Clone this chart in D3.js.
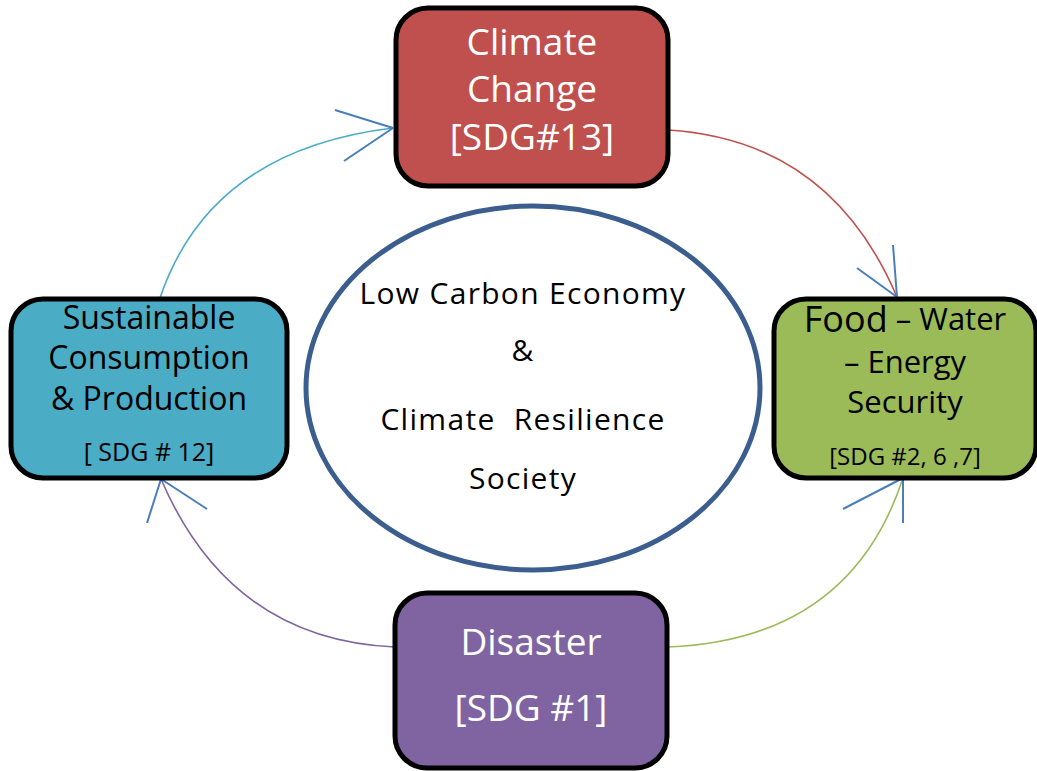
<!DOCTYPE html>
<html>
<head>
<meta charset="utf-8">
<script src="https://cdn.jsdelivr.net/npm/d3@7"></script>
<style>
  body { margin: 0; background: #fff; }
  svg { display: block; }
</style>
</head>
<body>
<script>
const width = 1037, height = 771;

// boxes of the cycle
const boxNames = ["climate", "food", "disaster", "consumption"];
const boxFills = ["#c0504d", "#9bbb59", "#8064a2", "#4bacc6"];
const boxTextColors = ["#fff", "#000", "#fff", "#000"];
const boxRects = [[396, 8, 272, 178], [774, 299, 262, 179], [395, 593, 272, 175], [11, 299, 276, 179]];
const boxLines = [
  [["Climate", 37, 45], ["Change", 37, 92], ["[SDG#13]", 37, 140]],
  [["Food – Water", 31, 322], ["– Energy", 31, 365], ["Security", 31, 405], ["[SDG #2, 6 ,7]", 24, 459]],
  [["Disaster", 37, 645], ["[SDG #1]", 37, 711]],
  [["Sustainable", 32, 320], ["Consumption", 32, 360], ["& Production", 32, 401], ["[ SDG # 12]", 25, 454]]
];

// center text
const centerLines = ["Low Carbon Economy", "&", "Climate  Resilience", "Society"];
const centerY = [296, 353, 422, 481];

// connecting arrows: start, control, end (tip), and two barb ends
const arrowColors = ["#4bacc6", "#c0504d", "#9bbb59", "#8064a2"];
const arrowPaths = [
  [[160, 298], [210, 150], [393, 128]],
  [[668, 130], [830, 140], [897, 297]],
  [[668, 647], [850, 640], [903, 478]],
  [[395, 647], [230, 640], [161, 479]]
];
const arrowBarbs = [
  [[335, 110], [344, 161]],
  [[857, 268], [893, 245]],
  [[843, 509], [903, 523]],
  [[147, 523], [207, 509]]
];

const svg = d3.select("body").append("svg")
  .attr("width", width)
  .attr("height", height);

const font = "'Open Sans', sans-serif";

// curves
svg.selectAll("path.curve")
  .data(arrowPaths)
  .enter().append("path")
    .attr("class", "curve")
    .attr("d", p => {
      const path = d3.path();
      path.moveTo(p[0][0], p[0][1]);
      path.quadraticCurveTo(p[1][0], p[1][1], p[2][0], p[2][1]);
      return path.toString();
    })
    .attr("fill", "none")
    .attr("stroke", (d, i) => arrowColors[i])
    .attr("stroke-width", 1.6);

// open arrowheads
arrowPaths.forEach((p, i) => {
  const tip = p[2];
  arrowBarbs[i].forEach(b => {
    svg.append("line")
      .attr("x1", tip[0]).attr("y1", tip[1])
      .attr("x2", b[0]).attr("y2", b[1])
      .attr("stroke", "#4a7ebb")
      .attr("stroke-width", 2);
  });
});

// center ellipse
svg.append("ellipse")
  .attr("cx", 533).attr("cy", 388)
  .attr("rx", 227).attr("ry", 182)
  .attr("fill", "#fff")
  .attr("stroke", "#3b5e8f")
  .attr("stroke-width", 5);

svg.selectAll("text.center")
  .data(centerLines)
  .enter().append("text")
    .attr("class", "center")
    .attr("x", 523)
    .attr("y", (d, i) => centerY[i])
    .attr("text-anchor", "middle")
    .attr("dominant-baseline", "middle")
    .style("font-family", font)
    .style("font-size", "30px")
    .style("letter-spacing", "1.3px")
    .style("white-space", "pre")
    .text(d => d);

// boxes
const boxes = svg.selectAll("g.box")
  .data(boxNames)
  .enter().append("g")
    .attr("class", "box");

boxes.append("rect")
  .attr("x", (d, i) => boxRects[i][0])
  .attr("y", (d, i) => boxRects[i][1])
  .attr("width", (d, i) => boxRects[i][2])
  .attr("height", (d, i) => boxRects[i][3])
  .attr("rx", 32)
  .attr("fill", (d, i) => boxFills[i])
  .attr("stroke", "#000")
  .attr("stroke-width", 5);

boxes.each(function(d, i) {
  const cx = boxRects[i][0] + boxRects[i][2] / 2;
  d3.select(this).selectAll("text")
    .data(boxLines[i])
    .enter().append("text")
      .attr("x", cx)
      .attr("y", l => l[2])
      .attr("text-anchor", "middle")
      .attr("dominant-baseline", "middle")
      .attr("fill", boxTextColors[i])
      .style("font-family", font)
      .style("font-size", l => l[1] + "px")
      .style("white-space", "pre")
      .text(l => l[0]);
});

// "Food" is larger than the rest of its line
svg.selectAll("g.box").filter(d => d === "food").select("text")
  .text(null)
  .call(t => {
    t.append("tspan").style("font-size", "36px").text("Food");
    t.append("tspan").text(" – Water");
  });
</script>
</body>
</html>
